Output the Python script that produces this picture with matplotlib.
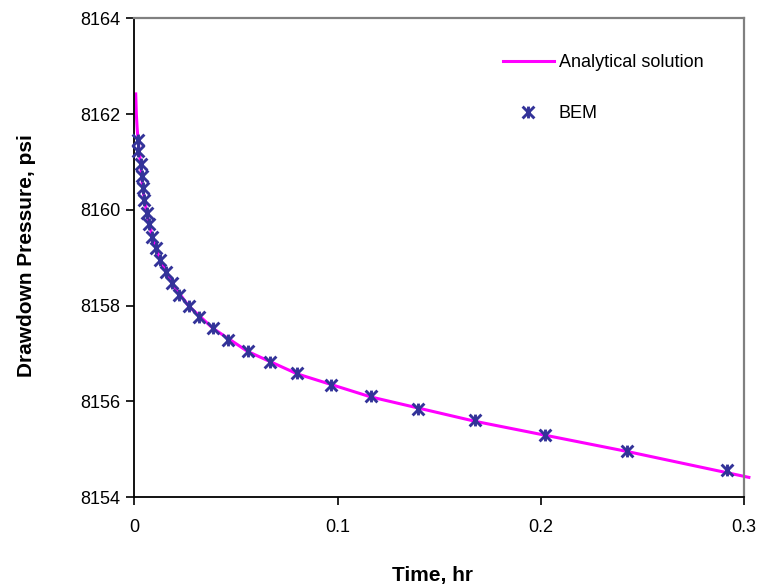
import matplotlib
matplotlib.use("Agg")
import matplotlib.pyplot as plt
from matplotlib.path import Path

plt.rcParams['font.family'] = ['Liberation Sans', 'DejaVu Sans']

# BEM results (time in hr, pressure in psi)
bem_time = [0.0020, 0.0020, 0.0031, 0.0036, 0.0041, 0.0049, 0.0061, 0.0074,
            0.0088, 0.0105, 0.0126, 0.0154, 0.0184, 0.0221, 0.0267, 0.0320,
            0.0388, 0.0462, 0.0558, 0.0669, 0.0803, 0.0967, 0.1164, 0.1396,
            0.1678, 0.2019, 0.2426, 0.2917]
bem_pressure = [8161.46, 8161.23, 8160.96, 8160.71, 8160.46, 8160.21, 8159.94,
                8159.70, 8159.44, 8159.20, 8158.95, 8158.71, 8158.47, 8158.23,
                8157.99, 8157.75, 8157.53, 8157.28, 8157.05, 8156.81, 8156.58,
                8156.34, 8156.10, 8155.84, 8155.61, 8155.29, 8154.97, 8154.57]

# Analytical solution
ana_time = [0.0007, 0.0010, 0.0014, 0.0020, 0.0031, 0.0041, 0.0061, 0.0088,
            0.0126, 0.0184, 0.0267, 0.0388, 0.0558, 0.0803, 0.1164, 0.1678,
            0.2426, 0.3024]
ana_pressure = [8162.42, 8162.00, 8161.70, 8161.40, 8160.95, 8160.46, 8159.94,
                8159.44, 8158.95, 8158.47, 8157.99, 8157.52, 8157.04, 8156.57,
                8156.09, 8155.58, 8154.95, 8154.41]

x_ticks = [0, 0.1, 0.2, 0.3]
x_tick_labels = ['0', '0.1', '0.2', '0.3']
y_ticks = [8154, 8156, 8158, 8160, 8162, 8164]

# Excel-style "star" marker: an X plus a vertical stroke
star_marker = Path([(-1, -1), (1, 1), (-1, 1), (1, -1), (0, -1), (0, 1)],
                   [Path.MOVETO, Path.LINETO, Path.MOVETO, Path.LINETO,
                    Path.MOVETO, Path.LINETO])

W, H = 761, 584
fig = plt.figure(figsize=(W / 100, H / 100), dpi=100)
ax = fig.add_axes([134.3 / W, 1 - 497 / H, (744 - 134.3) / W, (497 - 18.3) / H])

ax.plot(ana_time, ana_pressure, color='#FF00FF', lw=2.2, clip_on=False,
        zorder=2, label='Analytical solution')
ax.plot(bem_time, bem_pressure, linestyle='none', marker=star_marker,
        markersize=8.5, markeredgewidth=2.1, color='#333399', zorder=3,
        clip_on=False, label='BEM')

ax.set_xlim(0, 0.3)
ax.set_ylim(8154, 8164)
ax.set_xticks(x_ticks)
ax.set_xticklabels(x_tick_labels)
ax.set_yticks(y_ticks)
ax.set_yticklabels([str(v) for v in y_ticks])
ax.tick_params(axis='both', direction='out', length=6, width=1.2,
               labelsize=13, color='black')
ax.tick_params(axis='x', pad=10)
ax.tick_params(axis='y', pad=4)

for side in ['left', 'bottom']:
    ax.spines[side].set_color('black')
    ax.spines[side].set_linewidth(1.3)
for side in ['top', 'right']:
    ax.spines[side].set_color('#808080')
    ax.spines[side].set_linewidth(1.6)

fig.text(432 / W, 1 - 576 / H, 'Time, hr', ha='center', va='center',
         fontsize=15, fontweight='bold')
fig.text(27 / W, 1 - 256 / H, 'Drawdown Pressure, psi', ha='center',
         va='center', rotation=90, fontsize=15, fontweight='bold')

leg = ax.legend(loc='upper left', bbox_to_anchor=(503 / W, 1 - 54 / H),
                bbox_transform=fig.transFigure, frameon=False, fontsize=13,
                handlelength=2.8, handletextpad=0.3, labelspacing=1.88,
                borderpad=0, borderaxespad=0)

fig.savefig('out.png', dpi=100)
